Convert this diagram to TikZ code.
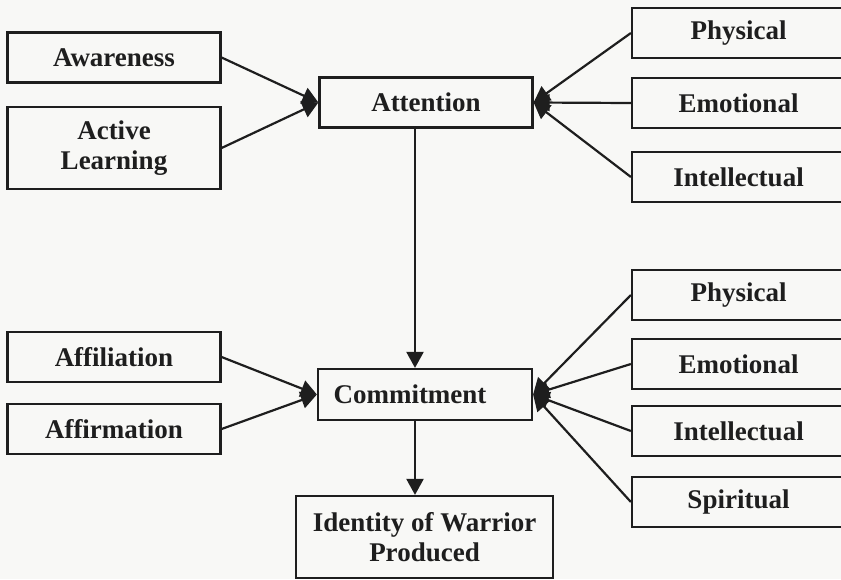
\documentclass[tikz,border=0pt]{standalone}
\usepackage{fontspec}
\setmainfont{Liberation Serif}
\usetikzlibrary{arrows.meta}
\definecolor{paper}{HTML}{F8F8F6}
\definecolor{ink}{HTML}{1E1E1E}
\begin{document}
\begin{tikzpicture}[x=1pt,y=-1pt,
  box/.style={draw=ink,line width=2.2pt,rectangle,inner sep=0pt,align=center,
    font=\fontsize{27}{30}\selectfont\bfseries,text=ink,minimum width=213pt,minimum height=50pt},
  arr/.style={draw=ink,line width=2.2pt,-{Triangle[length=16pt,width=17pt]}},
  con/.style={draw=ink,line width=2.2pt}]
\useasboundingbox (0,0) rectangle (841,579);
\fill[paper] (0,0) rectangle (841,579);
\clip (0,0) rectangle (841,579);
% left top
\node[box] (aw) at (114,57.5) {Awareness};
\node[box,minimum height=82pt] (al) at (114,148) {Active\\Learning};
\node[box] (att) at (426,102.5) {Attention};
% right top
\node[box] (p1) at (738.5,33) {Physical};
\node[box] (e1) at (738.5,103) {Emotional};
\node[box] (i1) at (738.5,177) {Intellectual};
% left bottom
\node[box] (af) at (114,357) {Affiliation};
\node[box] (am) at (114,429) {Affirmation};
\node[box,minimum width=214pt,minimum height=51pt] (com) at (425,394.5) {\hspace*{-30pt}Commitment};
% right bottom
\node[box] (p2) at (738.5,295) {Physical};
\node[box] (e2) at (738.5,364) {Emotional};
\node[box] (i2) at (738.5,431) {Intellectual};
\node[box] (s2) at (738.5,502) {Spiritual};
% identity
\node[box,minimum width=257pt,minimum height=82pt] (id) at (424.5,537) {Identity of Warrior\\Produced};
% connectors
\draw[arr] (aw.east) -- (att.west);
\draw[arr] (al.east) -- (att.west);
\draw[arr] (p1.west) -- (att.east);
\draw[arr] (e1.west) -- (att.east);
\draw[arr] (i1.west) -- (att.east);
\draw[arr] (att.south -| 415,0) -- (com.north -| 415,0);
\draw[arr] (af.east) -- (com.west);
\draw[arr] (am.east) -- (com.west);
\draw[arr] (p2.west) -- (com.east);
\draw[arr] (e2.west) -- (com.east);
\draw[arr] (i2.west) -- (com.east);
\draw[arr] (s2.west) -- (com.east);
\draw[arr] (com.south -| 415,0) -- (id.north -| 415,0);
\end{tikzpicture}
\end{document}
